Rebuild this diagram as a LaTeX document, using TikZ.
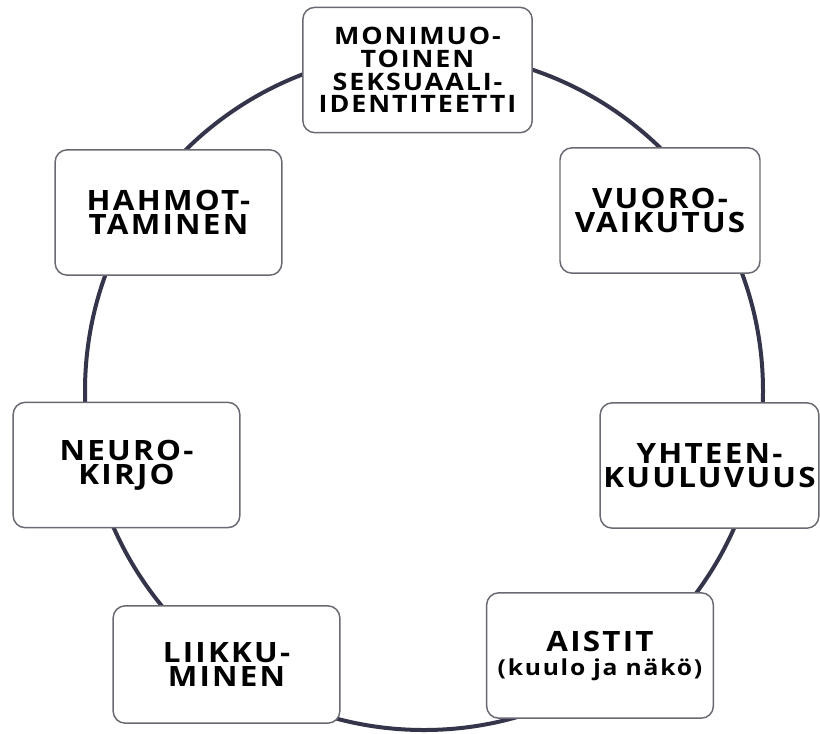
\documentclass[tikz,border=0pt]{standalone}
\usepackage{fontspec}
\newfontfamily\boxfont{Open Sans}[LetterSpace=8, FakeStretch=1.12]
\usepackage{xcolor}
\usepackage{tikz}
\usetikzlibrary{positioning, calc}

\definecolor{ringline}{RGB}{52,52,74}
\definecolor{boxline}{RGB}{105,105,115}

\begin{document}
\begin{tikzpicture}[x=0.75pt, y=-0.75pt,
  ring/.style={draw=ringline, line width=3pt},
  box/.style={draw=boxline, line width=1.1pt, fill=white, rounded corners=9pt,
    minimum width=170pt, minimum height=94pt, align=center, inner sep=0pt,
    font=\boxfont\bfseries\fontsize{21}{18}\selectfont},
  smallbox/.style={box, font=\boxfont\bfseries\fontsize{18}{17}\selectfont}]

\useasboundingbox (0,0) rectangle (820,733);

% circle behind the boxes
\draw[ring] (424,391) circle (254.25pt);

% top
\node[smallbox, minimum width=172pt] (ident) at (417.5,70) {MONIMUO-\\TOINEN\\SEKSUAALI-\\IDENTITEETTI};

% right side
\node[box, minimum width=150pt] (vuoro) at (660,210.5) {VUORO-\\VAIKUTUS};
\node[box, minimum width=164pt] (yhteen) at (709.5,465.5) {YHTEEN-\\KUULUVUUS};
\node[box] (aistit) at (600,655.5) {AISTIT\\{\fontsize{16.5}{19}\selectfont(kuulo ja näkö)}};

% left side
\node[box] (hahmo) at (168.5,212.5) {HAHMOT-\\TAMINEN};
\node[box] (neuro) at (126.5,465) {NEURO-\\KIRJO};
\node[box, minimum height=88pt] (liikku) at (226.5,664.5) {LIIKKU-\\MINEN};

\end{tikzpicture}
\end{document}
